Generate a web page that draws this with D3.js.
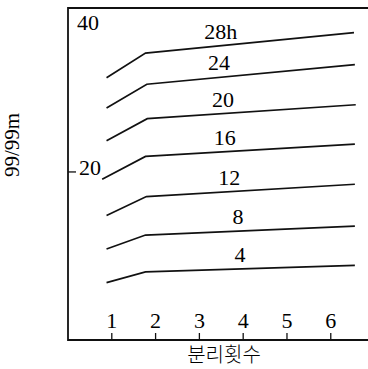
<!DOCTYPE html>
<html>
<head>
<meta charset="utf-8">
<script src="https://cdn.jsdelivr.net/npm/d3@7"></script>
<style>
    body { margin: 0; background: #fff; }
    .serif { font-family: "Times New Roman", Times, "Liberation Serif", "DejaVu Serif", serif; }
</style>
</head>
<body>
<div id="chart"></div>
<script>
// curve labels (hours), bottom to top
const labels = ["4", "8", "12", "16", "20", "24", "28h"];
// each curve: start, kink, end
const xStart = [0.88, 0.88, 0.88, 0.78, 0.88, 0.88, 0.88];
const xKink = [1.77, 1.77, 1.79, 1.77, 1.81, 1.80, 1.77];
const xEnd = [6.55, 6.55, 6.55, 6.55, 6.57, 6.55, 6.53];
const yStart = [6.5, 10.6, 14.7, 19.1, 23.8, 27.8, 31.5];
const yKink = [7.8, 12.3, 17.0, 21.9, 26.5, 30.7, 34.5];
const yEnd = [8.6, 13.4, 18.5, 23.4, 28.2, 33.1, 37.0];
const labelX = [3.93, 3.88, 3.68, 3.58, 3.54, 3.45, 3.49];

const xTicks = [1, 2, 3, 4, 5, 6];
const yTicks = [20, 40];

let width = 368, height = 369;
let svg = d3.select("#chart")
    .append("svg")
    .attr("width", width)
    .attr("height", height);

let x = d3.scaleLinear().domain([0, 6.85]).range([68, 368]);
let y = d3.scaleLinear().domain([-0.5, 40]).range([340, 8]);

// frame: left, top, bottom
svg.append("path")
    .attr("d", "M" + x.range()[1] + "," + y(40) + "H" + x(0) + "V" + y(-0.5) + "H" + x.range()[1])
    .attr("fill", "none")
    .attr("stroke", "#111")
    .attr("stroke-width", 1.8);

// x ticks point inward, labels sit above them
let xg = svg.append("g");
xg.selectAll("line")
    .data(xTicks)
    .enter()
    .append("line")
    .attr("x1", d => x(d))
    .attr("x2", d => x(d))
    .attr("y1", y(-0.5))
    .attr("y2", y(-0.5) - 7)
    .attr("stroke", "#111")
    .attr("stroke-width", 1.3);
xg.selectAll("text")
    .data(xTicks)
    .enter()
    .append("text")
    .attr("class", "serif")
    .attr("x", d => x(d))
    .attr("y", 328)
    .attr("text-anchor", "middle")
    .attr("font-size", 22)
    .text(d => d);

// y ticks: 20 has a small tick, 40 sits in the corner
svg.append("line")
    .attr("x1", x(0))
    .attr("x2", x(0) + 8)
    .attr("y1", y(yTicks[0]))
    .attr("y2", y(yTicks[0]))
    .attr("stroke", "#111")
    .attr("stroke-width", 1.3);
svg.append("text")
    .attr("class", "serif")
    .attr("x", x(0) + 11)
    .attr("y", y(yTicks[0]) + 3)
    .attr("font-size", 22)
    .text(yTicks[0]);
svg.append("text")
    .attr("class", "serif")
    .attr("x", x(0) + 9)
    .attr("y", y(yTicks[1]) + 22)
    .attr("font-size", 22)
    .text(yTicks[1]);

// curves
let line = d3.line()
    .x(d => x(d[0]))
    .y(d => y(d[1]));

let curves = labels.map(function (lab, i) {
    return [[xStart[i], yStart[i]], [xKink[i], yKink[i]], [xEnd[i], yEnd[i]]];
});

svg.selectAll(".curve")
    .data(curves)
    .enter()
    .append("path")
    .attr("class", "curve")
    .attr("d", line)
    .attr("fill", "none")
    .attr("stroke", "#111")
    .attr("stroke-width", 1.7);

// labels above each curve
svg.selectAll(".lab")
    .data(labels)
    .enter()
    .append("text")
    .attr("class", "lab serif")
    .attr("x", (d, i) => x(labelX[i]))
    .attr("y", function (d, i) {
        let t = (labelX[i] - xKink[i]) / (xEnd[i] - xKink[i]);
        let v = yKink[i] + t * (yEnd[i] - yKink[i]);
        return y(v) - 7;
    })
    .attr("text-anchor", "middle")
    .attr("font-size", 22)
    .text(d => d);

// axis titles
svg.append("text")
    .attr("class", "serif")
    .attr("transform", "translate(19,145) rotate(-90)")
    .attr("text-anchor", "middle")
    .attr("font-size", 21)
    .text("99/99m");

svg.append("text")
    .attr("x", 224)
    .attr("y", 362)
    .attr("text-anchor", "middle")
    .style("font-family", "'Noto Sans CJK KR', sans-serif")
    .attr("font-size", 20)
    .attr("font-weight", 300)
    .text("분리횟수");
</script>
</body>
</html>
